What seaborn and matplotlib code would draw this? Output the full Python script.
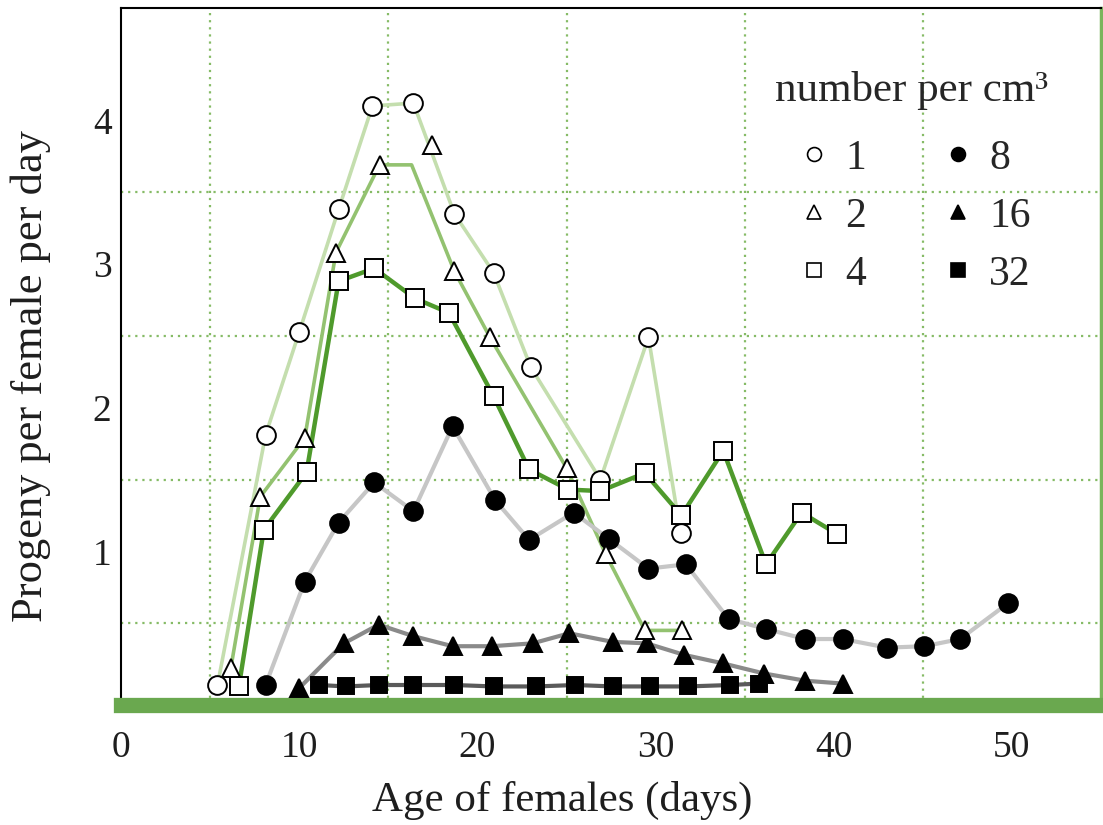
import matplotlib
matplotlib.use("Agg")
import matplotlib.pyplot as plt
import seaborn as sns
import numpy as np
import pandas as pd

# data (age in days, progeny per female per day)
d1_x = [5.4, 8.1, 10.0, 12.2, 14.1, 16.4, 18.7, 20.9, 23.0, 26.9, 29.6, 31.4]
d1_y = [0.07, 1.81, 2.53, 3.38, 4.10, 4.12, 3.35, 2.94, 2.28, 1.50, 2.49, 1.13]

# density 2: line path has a corner at 16.3 without a marker, one marker sits off the line
d2_line_x = [6.15, 7.8, 10.3, 12.05, 14.5, 16.3, 18.7, 20.7, 25.0, 27.2, 29.4, 31.5]
d2_line_y = [0.19, 1.38, 1.79, 3.08, 3.69, 3.69, 2.95, 2.49, 1.58, 0.98, 0.45, 0.45]
d2_x = [6.15, 7.8, 10.3, 12.05, 14.5, 17.45, 18.7, 20.7, 25.0, 27.2, 29.4, 31.5]
d2_y = [0.19, 1.38, 1.79, 3.08, 3.69, 3.83, 2.95, 2.49, 1.58, 0.98, 0.45, 0.45]

d4_x = [6.6, 8.0, 10.4, 12.2, 14.2, 16.5, 18.4, 20.9, 22.9, 25.1, 26.9, 29.4,
        31.45, 33.8, 36.2, 38.2, 40.2]
d4_y = [0.06, 1.15, 1.55, 2.88, 2.97, 2.76, 2.66, 2.08, 1.57, 1.43, 1.42, 1.545,
        1.25, 1.70, 0.91, 1.27, 1.12]

d8_x = [8.1, 10.3, 12.2, 14.2, 16.4, 18.6, 21.0, 22.9, 25.4, 27.4, 29.6, 31.7,
        34.1, 36.2, 38.4, 40.5, 43.0, 45.1, 47.1, 49.8]
d8_y = [0.07, 0.79, 1.20, 1.48, 1.28, 1.87, 1.355, 1.08, 1.27, 1.085, 0.88, 0.91,
        0.53, 0.46, 0.39, 0.39, 0.33, 0.34, 0.39, 0.64]

d16_x = [10.0, 12.5, 14.45, 16.4, 18.6, 20.8, 23.1, 25.15, 27.6, 29.5, 31.6,
         33.8, 36.1, 38.4, 40.5]
d16_y = [0.05, 0.36, 0.49, 0.41, 0.34, 0.34, 0.36, 0.43, 0.37, 0.36, 0.28,
         0.22, 0.15, 0.10, 0.08]

d32_x = [11.1, 12.6, 14.45, 16.4, 18.7, 20.9, 23.3, 25.5, 27.6, 29.7, 31.8, 34.2, 35.8]
d32_y = [0.07, 0.06, 0.07, 0.07, 0.07, 0.06, 0.06, 0.07, 0.06, 0.06, 0.06, 0.07, 0.08]

x_ticks = [0, 10, 20, 30, 40, 50]
y_ticks = [1, 2, 3, 4]
legend_labels = ["1", "2", "4", "8", "16", "32"]

sns.set_theme(style="white")
plt.rcParams['font.family'] = ['Liberation Serif', 'DejaVu Serif']

fig = plt.figure(figsize=(11.03, 8.25), dpi=100)
ax = fig.add_axes([0.110, 0.146, 0.888, 0.844])

grid_green = "#86bb66"
text_col = "#1e1e1e"
ms = 13.5

def series(x, y, color, lw, marker, face, label, size=ms):
    df = pd.DataFrame({"age": x, "progeny": y})
    sns.lineplot(data=df, x="age", y="progeny", ax=ax, color=color, linewidth=lw,
                 marker=marker, markersize=size, markerfacecolor=face,
                 markeredgecolor="black", markeredgewidth=1.4, label=label,
                 legend=False, zorder=3)

# open symbols, green lines
series(d1_x, d1_y, "#c4deae", 2.6, "o", "white", "1")
df2 = pd.DataFrame({"age": d2_line_x, "progeny": d2_line_y})
sns.lineplot(data=df2, x="age", y="progeny", ax=ax, color="#93c270", linewidth=2.6,
             legend=False, zorder=3)
ax.plot(d2_x, d2_y, linestyle="none", marker="^", markersize=ms, markerfacecolor="white",
        markeredgecolor="black", markeredgewidth=1.4, zorder=4)
series(d4_x, d4_y, "#4f9a2c", 3.2, "s", "white", "4")
# filled symbols, grey lines
series(d8_x, d8_y, "#c6c6c6", 3.0, "o", "black", "8")
series(d16_x, d16_y, "#8a8a8a", 3.0, "^", "black", "16")
series(d32_x, d32_y, "#5a5a5a", 3.0, "s", "black", "32", size=12)

ax.set_xlim(0, 55)
ax.set_ylim(-0.066, 4.78)
ax.set_xticks(x_ticks)
ax.set_xticklabels([str(t) for t in x_ticks])
ax.set_yticks(y_ticks)
ax.set_yticklabels([str(t) for t in y_ticks])
ax.set_xticks(np.arange(5, 55, 5), minor=True)
ax.set_yticks(np.arange(0.5, 4.01, 0.5), minor=True)
ax.grid(False)
ax.grid(which="minor", color=grid_green, linestyle=(0, (1, 2.2)), linewidth=1.6)
ax.tick_params(which="both", length=0, labelsize=27, colors=text_col)
ax.tick_params(axis="x", pad=19)
ax.tick_params(axis="y", pad=7)

for side in ["left", "top"]:
    ax.spines[side].set_color("black")
    ax.spines[side].set_linewidth(1.5)
ax.spines["right"].set_color("#7ab55c")
ax.spines["right"].set_linewidth(2.5)
ax.spines["bottom"].set_color("#6aa84f")
ax.spines["bottom"].set_linewidth(11)

ax.set_xlabel("Age of females (days)", fontsize=31, color=text_col)
ax.set_ylabel("Progeny per female per day", fontsize=32, color=text_col)
ax.xaxis.set_label_coords(0.45, -0.11)
ax.yaxis.set_label_coords(-0.072, 0.472)

# legend: marker-only handles
handles = []
for mk, face in [("o", "white"), ("^", "white"), ("s", "white"),
                 ("o", "black"), ("^", "black"), ("s", "black")]:
    h, = ax.plot([], [], linestyle="none", marker=mk, markersize=10,
                 markerfacecolor=face, markeredgecolor="black", markeredgewidth=1.2)
    handles.append(h)
leg = ax.legend(handles, legend_labels, ncol=2, title="number per cm³",
                loc="upper right", bbox_to_anchor=(0.968, 0.94), frameon=False,
                borderpad=0, fontsize=30, title_fontsize=31, handletextpad=0.25,
                columnspacing=1.7, labelspacing=0.47, handlelength=1.0)
leg._legend_box.align = "center"
leg._legend_box.sep = 21  # a bit more room under the title

fig.savefig("out.png", dpi=100)
